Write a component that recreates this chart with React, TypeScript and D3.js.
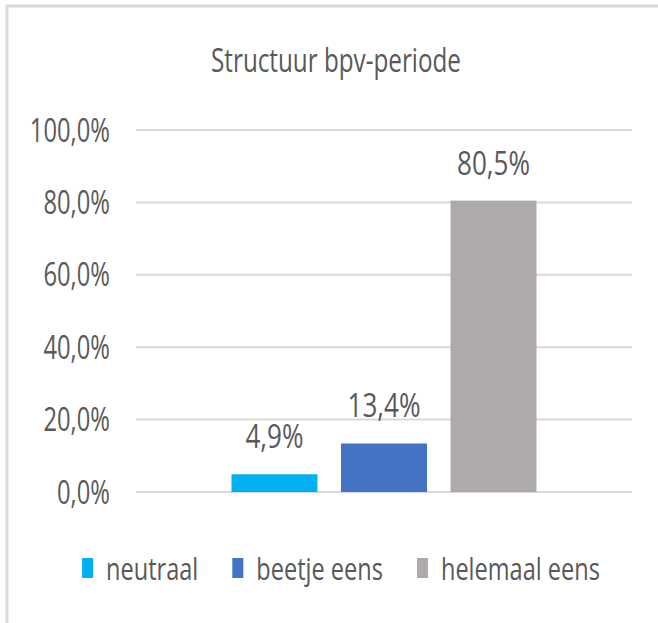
import React, { useEffect, useRef } from "react";
import * as d3 from "d3";

const title = "Structuur bpv-periode";
const seriesNames = ["neutraal", "beetje eens", "helemaal eens"];
const seriesValues = [0.049, 0.134, 0.805];
const seriesColors = ["#00B0F0", "#4472C4", "#AEAAAA"];
const yTicks = [0, 0.2, 0.4, 0.6, 0.8, 1.0];

const W = 658;
const H = 623;
const FONT = "'Open Sans', 'DejaVu Sans', sans-serif";
const TEXT_COLOR = "#595959";
const GRID = "#D9D9D9";

const fmt = (v: number) => (v * 100).toFixed(1).replace(".", ",") + "%";

export default function App() {
  const ref = useRef<SVGSVGElement | null>(null);

  useEffect(() => {
    const svg = d3.select(ref.current);
    svg.selectAll("*").remove();

    // frame
    svg
      .append("path")
      .attr("d", `M7,${H} V6 H${W}`)
      .attr("fill", "none")
      .attr("stroke", GRID)
      .attr("stroke-width", 3);

    const plotLeft = 136;
    const plotRight = 632;
    const y = d3.scaleLinear().domain([0, 1]).range([492, 130]);

    // gridlines
    svg
      .append("g")
      .selectAll("line")
      .data(yTicks)
      .join("line")
      .attr("x1", plotLeft)
      .attr("x2", plotRight)
      .attr("y1", (d) => y(d))
      .attr("y2", (d) => y(d))
      .attr("stroke", GRID)
      .attr("stroke-width", 2);

    const addText = (
      g: any,
      x: number,
      yy: number,
      txt: string,
      anchor: string,
      size: number,
      sx: number
    ) =>
      g
        .append("text")
        .attr("transform", `translate(${x},${yy}) scale(${sx},1)`)
        .attr("text-anchor", anchor)
        .attr("font-family", FONT)
        .attr("font-size", size)
        .attr("fill", TEXT_COLOR)
        .text(txt);

    // tick labels
    const tg = svg.append("g");
    yTicks.forEach((t) => addText(tg, 110, y(t) + 11.5, fmt(t), "end", 33, 0.72));

    // title
    addText(svg, 336, 72, title, "middle", 33, 0.735);

    // bars
    const groupCenter = (plotLeft + plotRight) / 2;
    const groupWidth = 305;
    const x = d3
      .scaleBand<string>()
      .domain(seriesNames)
      .range([groupCenter - groupWidth / 2, groupCenter + groupWidth / 2])
      .paddingInner(0.215);

    const bg = svg.append("g");
    seriesNames.forEach((name, i) => {
      const v = seriesValues[i];
      bg.append("rect")
        .attr("x", x(name)!)
        .attr("y", y(v))
        .attr("width", x.bandwidth())
        .attr("height", y(0) - y(v))
        .attr("fill", seriesColors[i]);
      addText(bg, x(name)! + x.bandwidth() / 2, y(v) - 26, fmt(v), "middle", 33, 0.79);
    });

    // legend
    const LSX = 0.76;
    const lg = svg.append("g");
    const items: { w: number; node: any; rect: any }[] = [];
    seriesNames.forEach((name, i) => {
      const rect = lg
        .append("rect")
        .attr("y", 558)
        .attr("width", 11)
        .attr("height", 20)
        .attr("fill", seriesColors[i]);
      const t = addText(lg, 0, 580, name, "start", 31, LSX);
      const w = (t.node() as SVGTextElement).getComputedTextLength() * LSX;
      items.push({ w, node: t, rect });
    });
    const markerGap = 24;
    const itemGap = 34;
    const total =
      items.reduce((s, it) => s + markerGap + it.w, 0) + itemGap * (items.length - 1);
    let cx = 341 - total / 2;
    items.forEach((it) => {
      it.rect.attr("x", cx);
      it.node.attr("transform", `translate(${cx + markerGap},580) scale(${LSX},1)`);
      cx += markerGap + it.w + itemGap;
    });
  }, []);

  return (
    <svg
      ref={ref}
      width={W}
      height={H}
      style={{ position: "absolute", left: 0, top: 0, background: "#fff" }}
    />
  );
}
